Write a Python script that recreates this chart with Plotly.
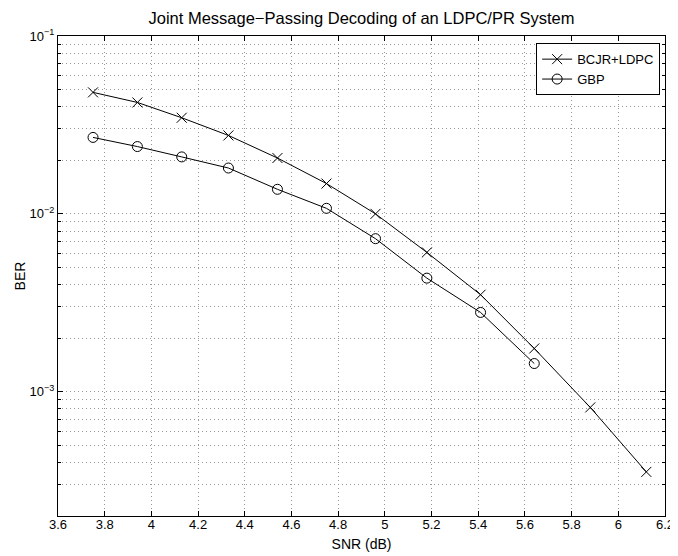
import plotly.graph_objects as go
import numpy as np

snr_bcjr = [3.75, 3.94, 4.13, 4.33, 4.54, 4.75, 4.96, 5.18, 5.41, 5.64, 5.88, 6.12]
ber_bcjr = [0.0482, 0.0423, 0.0347, 0.0276, 0.0206, 0.0148, 0.0100, 0.00607, 0.00351, 0.00175, 0.000816, 0.000354]

snr_gbp = [3.75, 3.94, 4.13, 4.33, 4.54, 4.75, 4.96, 5.18, 5.41, 5.64]
ber_gbp = [0.0269, 0.0239, 0.0209, 0.0181, 0.01374, 0.01074, 0.00725, 0.00435, 0.00279, 0.00144]

x_ticks = [3.6, 3.8, 4.0, 4.2, 4.4, 4.6, 4.8, 5.0, 5.2, 5.4, 5.6, 5.8, 6.0, 6.2]
x_ticktext = ["3.6", "3.8", "4", "4.2", "4.4", "4.6", "4.8", "5", "5.2", "5.4", "5.6", "5.8", "6", "6.2"]
y_ticks = [1e-3, 1e-2, 1e-1]
y_ticktext = ["10<sup>−3</sup>", "10<sup>−2</sup>", "10<sup>−1</sup>"]

FONT = "Liberation Sans, Arial, Helvetica, sans-serif"

fig = go.Figure()
fig.add_trace(go.Scatter(
    x=snr_bcjr, y=ber_bcjr, mode="lines+markers", name="BCJR+LDPC",
    line=dict(color="black", width=1),
    marker=dict(symbol="x-thin-open", size=10, color="black", line=dict(color="black", width=1)),
))
fig.add_trace(go.Scatter(
    x=snr_gbp, y=ber_gbp, mode="lines+markers", name="GBP",
    line=dict(color="black", width=1),
    marker=dict(symbol="circle-open", size=10, color="black", line=dict(color="black", width=1)),
))

grid_col = "rgb(150,150,150)"
grid_dash = "1px,3px"
# page body has an 8px margin, so the figure is 8px smaller and left/top margins reduced
fig.update_layout(
    width=670, height=548,
    paper_bgcolor="white", plot_bgcolor="white",
    margin=dict(l=50, r=13, t=28, b=40, autoexpand=False),
    font=dict(family=FONT, size=13, color="black"),
    title=dict(text="Joint Message−Passing Decoding of an LDPC/PR System",
               x=0.5276, xanchor="center", y=0.982, yanchor="middle",
               font=dict(size=16.5, family=FONT, color="black")),
    showlegend=True,
    legend=dict(x=0.992, y=0.985, xanchor="right", yanchor="top",
                bordercolor="black", borderwidth=1, bgcolor="white",
                font=dict(size=13, family=FONT), tracegroupgap=0,
                itemwidth=30),
)
fig.update_xaxes(
    range=[3.6, 6.2], tickvals=x_ticks, ticktext=x_ticktext,
    showline=True, linecolor="black", linewidth=1, mirror="ticks",
    ticks="inside", ticklen=5, tickcolor="black",
    showgrid=True, gridcolor=grid_col, griddash=grid_dash, gridwidth=1,
    zeroline=False, automargin=False, ticklabelstandoff=-4,
    title=dict(text="SNR (dB)", font=dict(size=14, family=FONT), standoff=8),
    tickfont=dict(size=13, family=FONT),
)
fig.update_yaxes(
    type="log", range=[np.log10(2e-4), -1],
    tickvals=y_ticks, ticktext=y_ticktext,
    showline=True, linecolor="black", linewidth=1, mirror="ticks",
    ticks="inside", ticklen=5, tickcolor="black",
    showgrid=True, gridcolor=grid_col, griddash=grid_dash, gridwidth=1,
    minor=dict(dtick="D1", showgrid=True, gridcolor=grid_col, griddash=grid_dash,
               ticks="inside", ticklen=3, tickcolor="black"),
    zeroline=False, automargin=False,
    title=dict(text="BER", font=dict(size=14, family=FONT), standoff=0),
    tickfont=dict(size=13, family=FONT),
)
fig.write_html("out.html")
